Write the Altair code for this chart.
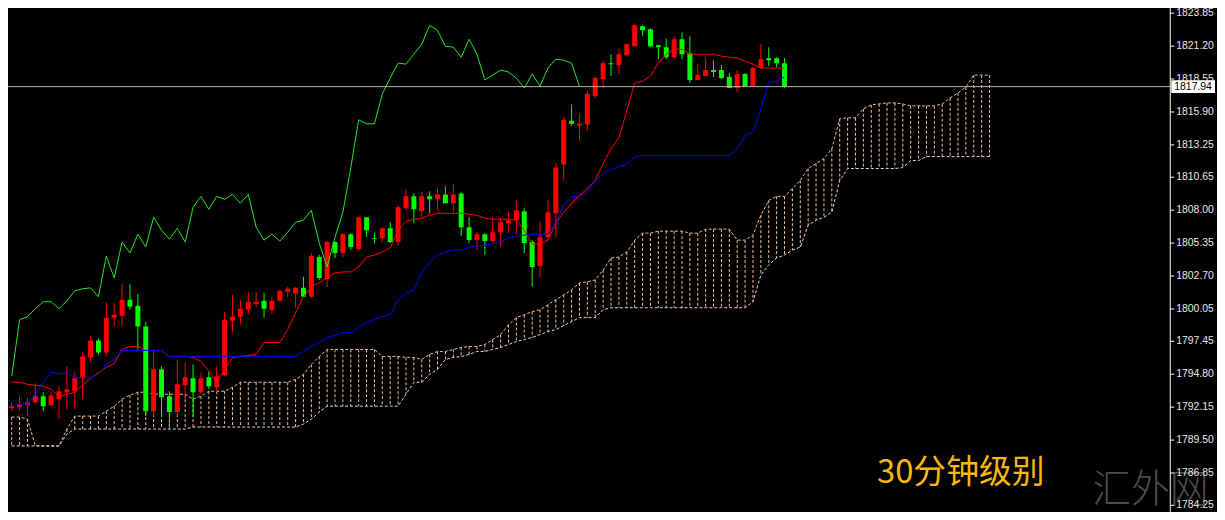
import altair as alt
import pandas as pd

# ---- candles (index 0 = leftmost visible bar) ----
opens = [1792.07,1792.15,1792.31,1792.55,1793.03,1792.31,1792.79,1793.35,1793.43,1794.47,
         1796.15,1797.51,1796.55,1799.35,1799.51,1800.79,1800.31,1798.63,1791.83,1795.19,
         1793.03,1791.75,1793.91,1794.47,1793.35,1794.55,1793.75,1794.71,1799.11,1799.43,
         1799.99,1800.47,1800.71,1799.99,1800.71,1801.43,1801.27,1801.75,1801.03,1804.23,
         1802.47,1805.43,1804.55,1806.07,1804.87,1807.43,1805.75,1805.75,1806.55,1805.43,
         1808.15,1809.11,1807.91,1809.11,1808.87,1809.27,1808.55,1809.35,1806.63,1805.59,
         1806.07,1805.51,1806.23,1806.95,1807.19,1807.91,1805.43,1803.51,1805.83,1807.75,
         1811.67,1815.19,1814.79,1814.87,1817.19,1818.55,1819.83,1819.67,1820.47,1821.19,
         1822.79,1822.55,1821.27,1821.11,1820.31,1821.75,1820.63,1818.47,1818.79,1819.27,
         1819.27,1818.71,1817.83,1818.95,1817.99,1819.43,1820.23,1820.23,1819.83]
highs = [1792.55,1793.03,1792.95,1794.07,1793.35,1793.35,1793.83,1795.43,1794.95,1796.55,
         1797.83,1797.67,1800.55,1800.55,1802.07,1802.07,1801.27,1799.03,1796.79,1795.43,
         1793.43,1795.99,1795.75,1795.59,1794.95,1795.03,1795.43,1799.83,1801.19,1800.79,
         1801.43,1801.43,1801.35,1801.03,1801.59,1801.83,1801.83,1802.63,1804.55,1804.39,
         1805.51,1805.51,1806.15,1806.15,1807.51,1807.43,1806.15,1806.63,1807.03,1808.39,
         1809.67,1809.35,1809.51,1809.51,1809.83,1809.91,1810.15,1809.43,1807.43,1806.23,
         1806.15,1807.43,1807.43,1807.83,1808.79,1808.15,1805.59,1807.11,1808.79,1811.83,
         1815.51,1816.47,1815.75,1817.59,1818.79,1819.99,1820.55,1821.03,1821.43,1823.03,
         1822.87,1822.63,1821.27,1821.83,1821.99,1822.31,1821.99,1819.75,1820.23,1820.07,
         1819.67,1819.03,1819.27,1819.03,1819.51,1821.35,1821.11,1820.31,1820.23]
lows = [1791.83,1791.83,1791.43,1792.47,1791.83,1792.23,1791.19,1791.99,1791.99,1792.79,
        1795.75,1796.39,1796.23,1798.63,1798.63,1799.99,1796.79,1791.43,1791.43,1791.35,
        1790.39,1791.43,1792.79,1791.35,1793.19,1793.59,1793.35,1794.63,1798.15,1798.79,
        1799.59,1800.15,1799.35,1799.67,1800.63,1801.03,1800.15,1801.03,1800.95,1802.39,
        1801.83,1804.15,1804.23,1804.79,1804.71,1805.83,1805.35,1805.43,1805.35,1805.19,
        1807.99,1806.95,1807.43,1807.75,1807.99,1808.55,1807.83,1805.91,1805.35,1804.79,
        1804.39,1805.43,1805.03,1806.15,1806.07,1804.55,1801.83,1802.55,1805.75,1805.83,
        1810.39,1814.79,1813.59,1814.39,1817.03,1817.83,1818.79,1818.95,1820.39,1821.19,
        1821.99,1821.11,1820.15,1820.15,1820.23,1820.15,1818.23,1818.47,1818.79,1818.71,
        1818.55,1817.83,1817.51,1817.91,1817.91,1819.35,1819.59,1819.51,1817.83]
closes = [1792.23,1792.39,1792.55,1793.03,1792.23,1793.11,1793.43,1793.59,1794.47,1796.23,
          1797.51,1796.55,1799.35,1799.59,1800.79,1800.23,1798.63,1791.83,1795.19,1792.95,
          1791.75,1793.99,1794.55,1793.35,1794.47,1793.83,1794.63,1799.19,1799.43,1800.07,
          1800.63,1800.63,1800.07,1800.71,1801.51,1801.67,1801.75,1801.03,1804.31,1802.55,
          1805.43,1804.55,1806.07,1805.03,1807.43,1806.39,1805.67,1806.55,1805.43,1808.23,
          1809.11,1808.07,1809.11,1808.87,1809.27,1808.55,1809.27,1806.63,1805.59,1806.07,
          1805.51,1806.23,1807.03,1807.19,1807.99,1805.35,1803.43,1805.83,1807.83,1811.43,
          1815.27,1814.95,1814.95,1817.35,1818.63,1819.83,1819.75,1820.55,1821.35,1822.87,
          1822.47,1821.19,1821.11,1820.31,1821.75,1820.55,1818.47,1818.87,1819.27,1819.11,
          1818.63,1817.83,1818.95,1817.99,1819.43,1820.15,1820.07,1819.83,1817.94]

# ---- Ichimoku lines ----
tenkan = [1794.15,1794.15,1793.99,1793.91,1793.83,1793.59,1792.95,1793.19,1793.35,1793.91,
          1794.47,1794.95,1795.35,1795.67,1796.79,1797.03,1797.03,1796.71,1796.71,1796.71,
          1796.23,1796.23,1796.23,1796.15,1795.83,1795.03,1794.15,1795.19,1796.15,1796.23,
          1796.31,1796.39,1797.35,1797.35,1797.35,1798.39,1799.75,1801.03,1801.83,1802.15,
          1802.55,1802.95,1803.03,1803.03,1803.43,1804.23,1804.39,1804.63,1804.95,1806.39,
          1807.11,1807.27,1807.35,1807.59,1807.75,1807.75,1807.75,1807.75,1807.67,1807.59,
          1807.35,1807.27,1807.27,1807.27,1807.19,1806.39,1805.27,1805.27,1805.59,1806.95,
          1807.83,1808.55,1809.19,1809.75,1810.39,1811.75,1812.95,1813.83,1815.99,1818.23,
          1818.39,1818.79,1819.83,1820.55,1820.95,1820.95,1820.55,1820.55,1820.55,1820.55,
          1820.39,1820.31,1820.23,1819.99,1819.75,1819.43,1819.43,1819.43,1819.43]
kijun = [1792.39,1792.39,1792.39,1793.19,1794.07,1794.95,1794.87,1794.87,1794.55,1794.55,
         1794.55,1794.79,1795.59,1795.99,1796.71,1796.71,1796.71,1796.71,1796.71,1796.71,
         1796.23,1796.23,1796.23,1796.23,1796.23,1796.23,1796.23,1796.23,1796.23,1796.23,
         1796.23,1796.23,1796.23,1796.23,1796.23,1796.23,1796.23,1796.63,1797.03,1797.35,
         1797.75,1797.91,1798.15,1798.15,1798.55,1798.95,1799.19,1799.43,1799.59,1800.79,
         1801.35,1801.59,1802.95,1803.83,1804.39,1804.63,1804.79,1804.79,1805.03,1805.11,
         1805.19,1805.27,1805.51,1805.75,1805.91,1805.99,1806.07,1806.07,1806.07,1807.03,
         1808.39,1809.11,1809.11,1809.51,1810.31,1810.95,1811.27,1811.51,1811.67,1812.31,
         1812.39,1812.39,1812.39,1812.39,1812.39,1812.39,1812.39,1812.39,1812.39,1812.39,
         1812.39,1812.39,1812.95,1813.99,1814.31,1816.15,1818.23,1818.39,1818.71]
span_top = [1791.35,1791.35,1791.19,1789.03,1789.03,1789.03,1789.03,1790.39,1791.43,1791.43,
            1791.43,1791.43,1791.83,1792.23,1792.79,1793.11,1793.35,1793.35,1793.19,1793.19,
            1793.19,1793.19,1793.19,1792.79,1793.03,1793.43,1793.43,1793.43,1793.75,1794.15,
            1794.15,1794.15,1794.15,1794.15,1794.15,1794.15,1794.39,1794.79,1795.59,1796.23,
            1796.79,1796.79,1796.79,1796.79,1796.79,1796.79,1796.79,1796.23,1796.23,1796.23,
            1796.15,1796.15,1795.99,1796.39,1796.63,1796.63,1796.79,1796.95,1797.03,1797.03,
            1797.19,1797.59,1797.99,1798.79,1799.35,1799.59,1799.83,1799.99,1800.39,1800.79,
            1801.19,1801.59,1802.15,1802.23,1802.39,1803.19,1804.15,1804.23,1804.63,1805.59,
            1806.15,1806.15,1806.31,1806.31,1806.31,1806.31,1806.15,1806.15,1806.47,1806.47,
            1806.47,1806.47,1805.59,1805.59,1805.99,1807.59,1808.79,1809.11,1809.11,1809.75,
            1810.39,1811.35,1811.75,1812.15,1812.95,1815.35,1815.43,1815.43,1816.15,1816.47,
            1816.55,1816.63,1816.63,1816.55,1816.39,1816.39,1816.39,1816.39,1816.55,1817.03,
            1817.43,1817.91,1818.87,1818.87,1818.87]
span_bot = [1789.03,1789.03,1789.03,1789.03,1789.03,1789.03,1789.03,1789.99,1790.39,1790.39,
            1790.39,1790.39,1790.39,1790.39,1790.39,1790.39,1790.39,1790.39,1790.39,1790.39,
            1790.39,1790.39,1790.39,1790.55,1790.55,1790.55,1790.55,1790.55,1790.55,1790.55,
            1790.55,1790.55,1790.55,1790.55,1790.55,1790.55,1790.55,1790.79,1791.19,1791.75,
            1792.23,1792.23,1792.23,1792.23,1792.23,1792.23,1792.23,1792.23,1792.23,1792.23,
            1793.19,1794.15,1794.15,1794.79,1795.19,1795.99,1796.15,1796.23,1796.39,1796.63,
            1796.63,1796.79,1796.95,1797.19,1797.43,1797.59,1797.75,1797.99,1798.23,1798.39,
            1798.71,1799.03,1799.35,1799.35,1799.35,1799.99,1800.15,1800.15,1800.15,1800.15,
            1800.15,1800.15,1800.15,1800.15,1800.15,1800.15,1800.15,1800.15,1800.15,1800.15,
            1800.15,1800.15,1800.15,1800.15,1800.63,1802.79,1803.59,1804.15,1804.39,1804.79,
            1805.03,1806.79,1807.19,1807.43,1807.83,1810.39,1811.35,1811.35,1811.35,1811.35,
            1811.35,1811.35,1811.35,1811.43,1811.99,1811.99,1812.31,1812.31,1812.31,1812.31,
            1812.31,1812.31,1812.31,1812.31,1812.31]
chikou_shift = 26

tick_values = [1784.25, 1786.85, 1789.50, 1792.15, 1794.80, 1797.45, 1800.05, 1802.70,
               1805.35, 1808.00, 1810.65, 1813.25, 1815.90, 1818.55, 1821.20, 1823.85]
last_price = 1817.94
caption = "30分钟级别"
watermark = "汇外网"

# ---- tables ----
n = len(closes)
candles = pd.DataFrame({"i": list(range(n)), "open": opens, "high": highs,
                        "low": lows, "close": closes})
candles["dir"] = ["up" if c >= o else "down" for o, c in zip(opens, closes)]
lines = pd.DataFrame({"i": list(range(n)), "tenkan": tenkan, "kijun": kijun})
chikou = pd.DataFrame({"i": [j - chikou_shift for j in range(chikou_shift, n)],
                       "v": closes[chikou_shift:]})
cloud = pd.DataFrame({"i": list(range(len(span_top))), "top": span_top, "bot": span_bot})
price = pd.DataFrame({"p": [last_price], "hi": [last_price + 0.52], "lo": [last_price - 0.52],
                      "label": [f"{last_price:.2f}"]})
ticks = pd.DataFrame({"v": tick_values, "label": [f"{v:.2f}" for v in tick_values]})

PW, PH = 1169, 500
xs = alt.Scale(domain=[0.1625, 146.2875], nice=False, zero=False)
ys = alt.Scale(domain=[1784.15, 1824.15], nice=False, zero=False)
X = alt.X("i:Q", scale=xs, axis=None)


def Y(field):
    return alt.Y(field, scale=ys, axis=None)


cloud_rules = alt.Chart(cloud).mark_rule(color="#f3c39a", strokeWidth=1,
                                          strokeDash=[3, 2], clip=True).encode(
    x=X, y=Y("top:Q"), y2="bot:Q")
cloud_top = alt.Chart(cloud).mark_line(color="#f4b88a", strokeWidth=1,
                                        strokeDash=[3, 2], clip=True).encode(
    x=X, y=Y("top:Q"))
cloud_bot = alt.Chart(cloud).mark_line(color="#e6d2e0", strokeWidth=1,
                                        strokeDash=[3, 2], clip=True).encode(
    x=X, y=Y("bot:Q"))

col = alt.Color("dir:N", scale=alt.Scale(domain=["up", "down"],
                                         range=["#ff0000", "#00ff00"]), legend=None)
wicks = alt.Chart(candles).mark_rule(strokeWidth=1, clip=True).encode(
    x=X, y=Y("low:Q"), y2="high:Q", color=col)
bodies = alt.Chart(candles).mark_bar(size=5, clip=True).encode(
    x=X, y=Y("open:Q"), y2="close:Q", color=col)

tenkan_l = alt.Chart(lines).mark_line(color="#ff0000", strokeWidth=1, clip=True).encode(
    x=X, y=Y("tenkan:Q"))
kijun_l = alt.Chart(lines).mark_line(color="#0000ff", strokeWidth=1, clip=True).encode(
    x=X, y=Y("kijun:Q"))
chikou_l = alt.Chart(chikou).mark_line(color="#22e622", strokeWidth=1, clip=True).encode(
    x=X, y=Y("v:Q"))

price_line = alt.Chart(price).mark_rule(color="#b4b4b4", strokeWidth=1).encode(
    y=Y("p:Q"))

# right-hand price axis
axis_line = alt.Chart(price).mark_rule(color="#ffffff", strokeWidth=1).encode(
    x=alt.value(PW), y=alt.value(-10), y2=alt.value(PH + 10))
tick_marks = alt.Chart(ticks).mark_rule(color="#ffffff", strokeWidth=1).encode(
    x=alt.value(PW), x2=alt.value(PW + 4), y=Y("v:Q"))
tick_labels = alt.Chart(ticks).mark_text(color="#e6e6e6", font="Liberation Sans",
                                         fontSize=10.5, align="left", baseline="middle").encode(
    x=alt.value(PW + 6), y=Y("v:Q"), text="label:N")

price_box = alt.Chart(price).mark_rect(color="#ffffff").encode(
    x=alt.value(PW + 1), x2=alt.value(PW + 45),
    y=Y("hi:Q"), y2="lo:Q")
price_txt = alt.Chart(price).mark_text(color="#000000", font="Liberation Sans",
                                       fontSize=10.5, align="left", baseline="middle").encode(
    x=alt.value(PW + 4), y=Y("p:Q"), text="label:N")

cap = alt.Chart(pd.DataFrame({"t": [caption]})).mark_text(
    color="#f7b70c", font="Noto Sans CJK SC", fontSize=33, align="left",
    baseline="middle").encode(x=alt.value(874), y=alt.value(466), text="t:N")
wm = alt.Chart(pd.DataFrame({"t": [watermark]})).mark_text(
    color="#4a4a4a", font="Noto Sans CJK SC", fontWeight=300, fontSize=39,
    align="center", baseline="middle").encode(x=alt.value(1149), y=alt.value(483), text="t:N")

chart = alt.layer(
    cloud_rules, cloud_top, cloud_bot, wicks, bodies, tenkan_l, kijun_l, chikou_l,
    price_line, wm, axis_line, tick_marks, tick_labels, price_box, price_txt, cap
).properties(
    width=PW, height=PH,
    autosize=alt.AutoSizeParams(type="none"),
    padding={"left": 0, "top": 0, "right": 47, "bottom": 4},
    background="#000000",
).configure_view(stroke=None)

chart.save("out.html", embed_options={"renderer": "svg", "actions": False})
